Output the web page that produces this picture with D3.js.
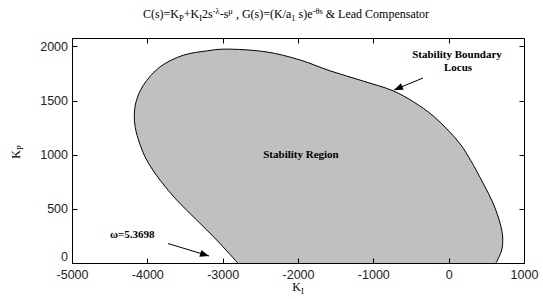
<!DOCTYPE html>
<html>
<head>
<meta charset="utf-8">
<script src="https://cdn.jsdelivr.net/npm/d3@7"></script>
<style>
  html, body { margin: 0; padding: 0; background: #fff; }
  svg { display: block; }
</style>
</head>
<body>
<svg id="chart" width="543" height="299" xmlns="http://www.w3.org/2000/svg"></svg>
<script>
// ---- data ----
const xTicks = [-5000, -4000, -3000, -2000, -1000, 0, 1000];
const yTicks = [0, 500, 1000, 1500, 2000];
const xDomain = [-5000, 1000];
const yDomain = [0, 2078];

// stability boundary locus (K_I, K_P), traced from bottom-left, over the top, down to bottom-right
const boundaryKI = [-2800, -3079, -3345, -3610, -3832, -4008, -4100, -4160, -4173, -4150, -4053, -3832, -3522, -3200, -2991,
                    -2415, -1973, -1575, -1133, -738, -470, -208, 4, 164, 290, 456, 589, 682, 717, 704, 629];
const boundaryKP = [0, 212, 397, 581, 766, 950, 1100, 1250, 1365, 1488, 1642, 1811, 1919, 1960, 1975,
                    1949, 1875, 1775, 1680, 1590, 1490, 1360, 1218, 1089, 950, 738, 553, 369, 240, 120, 0];

const svg = d3.select("#chart");
const m = { left: 72, right: 524, top: 38, bottom: 263 };

const x = d3.scaleLinear().domain(xDomain).range([m.left, m.right]);
const y = d3.scaleLinear().domain(yDomain).range([m.bottom, m.top]);

// region
const pts = boundaryKI.map((k, i) => [k, boundaryKP[i]]);
const line = d3.line().x(d => x(d[0])).y(d => y(d[1])).curve(d3.curveCatmullRom.alpha(0.5));
svg.append("path")
  .attr("d", line(pts) + "Z")
  .attr("fill", "#c0c0c0")
  .attr("stroke", "none");
svg.append("path")
  .attr("d", line(pts))
  .attr("fill", "none")
  .attr("stroke", "#000")
  .attr("stroke-width", 1);

// frame and inward ticks (crisp 1px)
const tickLen = 5;
const seg = (x1, y1, x2, y2) => svg.append("line")
  .attr("x1", x1).attr("y1", y1).attr("x2", x2).attr("y2", y2)
  .attr("stroke", "#000").attr("stroke-width", 1);
const L = m.left + 0.5, R = m.right + 0.5, T = m.top + 0.5, B = m.bottom + 0.5;
seg(L, T, R, T);
seg(R, T, R, B);
seg(R, B, L, B);
seg(L, B, L, T);
xTicks.forEach(v => {
  const px = Math.round(x(v)) + 0.5;
  seg(px, B, px, B - tickLen);
  seg(px, T, px, T + tickLen);
});
yTicks.forEach(v => {
  const py = Math.round(y(v)) + 0.5;
  seg(L, py, L + tickLen, py);
  seg(R, py, R - tickLen, py);
});

// tick labels via d3 axes
const axisFont = "'Liberation Sans', Arial, sans-serif";
const gx = svg.append("g").attr("transform", `translate(0,${m.bottom})`)
  .call(d3.axisBottom(x).tickValues(xTicks).tickSize(0).tickPadding(7).tickFormat(d3.format("d")));
const gy = svg.append("g").attr("transform", `translate(${m.left},0)`)
  .call(d3.axisLeft(y).tickValues(yTicks).tickSize(0).tickPadding(4).tickFormat(d3.format("d")));
[gx, gy].forEach(g => {
  g.select(".domain").remove();
  g.selectAll(".tick line").remove();
  g.selectAll("text").attr("font-family", axisFont).attr("font-size", 12.5).attr("fill", "#222");
});
gx.selectAll("text").text(d => String(d).replace("−", "-"));
gy.selectAll(".tick").filter(d => d === 0).select("text").attr("dy", "-0.2em");

// title
const serif = "'Liberation Serif', 'Times New Roman', serif";
const title = svg.append("text").attr("x", 286).attr("y", 18).attr("text-anchor", "middle")
  .attr("font-family", serif).attr("font-size", 12).attr("fill", "#000");
const parts = [
  ["C(s)=K", 0], ["P", 1], ["+K", 0], ["I", 1], ["2s", 0], ["-λ", -1], ["-s", 0], ["μ", -1],
  [" , G(s)=(K/a", 0], ["1", 1], [" s)e", 0], ["-θs", -1], [" & Lead Compensator", 0]
];
let prev = 0;
parts.forEach(([t, s]) => {
  const off = s === 1 ? 3 : (s === -1 ? -4 : 0);
  title.append("tspan").attr("dy", off - prev).attr("font-size", s === 0 ? 12 : 8.5).text(t);
  prev = off;
});

// axis labels
const xl = svg.append("text").attr("x", 298).attr("y", 291).attr("text-anchor", "middle")
  .attr("font-family", serif).attr("font-size", 12).attr("fill", "#000");
xl.append("tspan").text("K");
xl.append("tspan").attr("dy", 3).attr("font-size", 8.5).text("I");

const yl = svg.append("text").attr("transform", "translate(20,152) rotate(-90)").attr("text-anchor", "middle")
  .attr("font-family", serif).attr("font-size", 12).attr("fill", "#000");
yl.append("tspan").text("K");
yl.append("tspan").attr("dy", 3).attr("font-size", 8.5).text("P");

// annotations
const ann = (tx, ty, txt) => svg.append("text").attr("x", tx).attr("y", ty).attr("text-anchor", "middle")
  .attr("font-family", serif).attr("font-weight", "bold").attr("font-size", 11).attr("fill", "#000").text(txt);
ann(301, 158, "Stability Region");
ann(457, 58, "Stability Boundary");
ann(458, 71, "Locus");
svg.append("text").attr("x", 110).attr("y", 238)
  .attr("font-family", serif).attr("font-weight", "bold").attr("font-size", 11).attr("fill", "#000").text("ω=5.3698");

// arrows
const arrow = (x1, y1, x2, y2) => {
  svg.append("line").attr("x1", x1).attr("y1", y1).attr("x2", x2).attr("y2", y2)
    .attr("stroke", "#000").attr("stroke-width", 1);
  const a = Math.atan2(y2 - y1, x2 - x1), Lh = 9, W = 3.5;
  const bx = x2 - Lh * Math.cos(a), by = y2 - Lh * Math.sin(a);
  svg.append("path")
    .attr("d", `M${x2},${y2}L${bx - W * Math.sin(a)},${by + W * Math.cos(a)}L${bx + W * Math.sin(a)},${by - W * Math.cos(a)}Z`)
    .attr("fill", "#000");
};
arrow(423, 78, 394, 90);
arrow(168, 243.5, 209, 256);
</script>
</body>
</html>
